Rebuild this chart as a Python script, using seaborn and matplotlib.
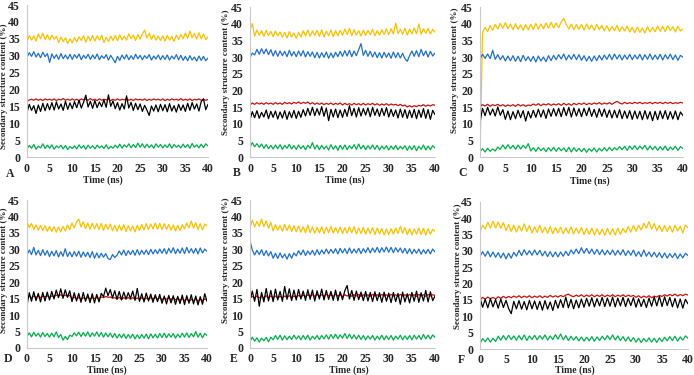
import numpy as np
import pandas as pd
import matplotlib
matplotlib.use("Agg")
import matplotlib.pyplot as plt
import seaborn as sns

# ---------------- data (% content vs time 0-40 ns, every 0.5 ns) ----------------
A_yellow = [34.2, 36.0, 34.6, 35.9, 34.3, 36.4, 35.0, 36.7, 34.7, 36.2,
            34.6, 36.1, 34.9, 35.7, 33.9, 35.5, 34.2, 35.3, 33.6, 35.0,
            33.8, 35.4, 34.1, 35.6, 34.5, 35.9, 34.0, 35.7, 34.4, 36.0,
            34.3, 35.9, 34.6, 36.1, 33.9, 35.4, 34.2, 35.8, 34.5, 36.0,
            34.4, 36.2, 34.7, 35.8, 34.6, 36.5, 35.0, 36.1, 34.5, 36.3,
            34.9, 36.4, 37.6, 35.2, 36.6, 34.8, 36.2, 34.6, 35.8, 34.5,
            35.9, 34.3, 36.0, 34.6, 35.7, 34.2, 36.1, 34.8, 36.3, 35.0,
            36.7, 35.1, 37.3, 35.3, 36.6, 34.9, 36.8, 35.0, 36.4, 34.7, 35.6]
A_blue = [29.5, 30.9, 29.8, 31.2, 29.6, 30.7, 29.4, 31.0, 29.7, 30.6,
          28.0, 30.5, 29.2, 30.3, 28.9, 30.6, 29.1, 30.2, 29.0, 30.4,
          28.9, 30.3, 29.3, 30.5, 28.8, 30.1, 29.2, 30.4, 28.9, 30.2,
          29.1, 30.5, 28.8, 30.0, 29.2, 30.3, 28.7, 30.1, 29.0, 27.9,
          29.8, 28.6, 30.2, 29.0, 30.3, 28.8, 30.0, 28.9, 30.4, 29.1,
          30.1, 28.8, 30.0, 29.2, 30.3, 28.7, 29.9, 29.0, 30.2, 28.8,
          30.0, 28.9, 30.2, 28.7, 29.9, 29.0, 30.3, 28.8, 30.1, 28.6,
          29.8, 28.5, 30.0, 28.7, 29.6, 28.4, 29.9, 28.6, 29.8, 28.5, 29.3]
A_red = [16.5, 16.9, 17.1, 16.8, 17.2, 16.8, 17.1, 16.7, 17.2, 16.9,
         17.1, 16.8, 17.2, 16.7, 17.1, 16.9, 17.3, 16.8, 17.1, 16.8,
         17.2, 16.8, 17.1, 16.7, 17.2, 16.9, 17.1, 16.8, 17.3, 16.8,
         17.1, 16.7, 17.2, 16.8, 17.1, 16.9, 17.2, 16.7, 17.1, 16.8,
         17.2, 16.8, 17.1, 16.9, 17.3, 16.8, 17.1, 16.7, 17.2, 16.9,
         17.1, 16.8, 17.2, 16.7, 17.1, 16.8, 17.2, 16.9, 17.1, 16.8,
         17.2, 16.7, 17.1, 16.8, 17.2, 16.9, 17.1, 16.8, 17.3, 16.8,
         17.1, 16.8, 17.2, 16.7, 17.1, 16.9, 17.2, 16.8, 17.1, 16.8, 17.0]
A_black = [13.2, 15.6, 13.8, 15.2, 12.9, 15.4, 13.5, 15.9, 13.7, 15.8,
           14.0, 16.1, 13.9, 16.3, 14.2, 15.7, 13.8, 16.5, 14.1, 16.0,
           14.3, 16.4, 14.6, 16.8, 14.5, 16.2, 18.3, 14.8, 16.5, 14.4,
           16.7, 14.6, 16.3, 14.9, 16.9, 14.7, 18.4, 15.0, 16.6, 14.3,
           16.1, 13.9, 15.8, 14.2, 18.1, 14.5, 16.2, 13.8, 15.9, 14.0,
           15.7, 13.5, 15.3, 13.9, 12.3, 15.1, 13.6, 15.4, 13.4, 15.6,
           13.7, 15.5, 13.4, 15.8, 13.6, 15.2, 13.3, 15.6, 13.8, 15.4,
           13.5, 15.9, 13.8, 16.1, 14.2, 15.7, 13.6, 16.4, 17.2, 14.0, 15.6]
A_green = [2.4, 3.4, 2.6, 3.7, 2.3, 3.2, 2.7, 3.9, 2.5, 3.5,
           2.6, 3.6, 2.3, 3.3, 2.7, 3.5, 2.4, 3.4, 2.2, 3.1,
           2.5, 3.3, 2.4, 3.6, 2.6, 3.4, 2.3, 3.5, 2.6, 3.3,
           2.4, 3.5, 2.7, 3.3, 2.5, 3.6, 2.4, 3.2, 2.6, 3.5,
           2.7, 3.8, 2.6, 3.6, 2.9, 3.9, 2.7, 3.7, 2.8, 4.1,
           2.9, 3.9, 2.7, 3.8, 2.8, 3.6, 2.6, 3.9, 2.9, 3.7,
           2.7, 3.6, 2.8, 3.9, 2.6, 3.7, 2.9, 3.5, 2.7, 3.8,
           2.8, 3.7, 2.6, 4.0, 2.9, 3.6, 2.7, 3.8, 2.8, 3.9, 3.3]

B_yellow = [38.0, 40.0, 36.3, 38.1, 36.5, 37.9, 36.2, 38.0, 36.4, 37.7,
            36.1, 37.8, 36.3, 37.5, 35.9, 37.4, 35.7, 37.6, 36.0, 37.2,
            35.6, 37.4, 36.0, 37.9, 36.3, 38.1, 36.2, 37.8, 36.5, 38.0,
            36.2, 38.2, 36.0, 37.7, 36.4, 38.1, 36.1, 37.9, 36.3, 38.0,
            36.5, 38.4, 36.7, 38.6, 36.4, 38.2, 36.6, 37.9, 36.3, 38.1,
            36.5, 38.0, 36.7, 38.3, 36.4, 37.9, 36.6, 38.2, 36.8, 38.4,
            36.7, 38.5, 36.9, 40.2, 37.0, 38.3, 36.8, 38.6, 36.6, 38.4,
            36.9, 38.7, 37.0, 39.9, 36.8, 38.5, 37.1, 38.6, 36.9, 38.3, 37.4]
B_blue = [29.8, 31.2, 30.6, 32.3, 30.8, 32.5, 31.0, 32.4, 30.7, 32.2,
          30.3, 31.9, 30.2, 31.8, 30.4, 31.7, 30.1, 32.0, 30.3, 31.6,
          30.1, 31.8, 30.3, 31.9, 30.0, 31.6, 30.2, 31.5, 29.8, 31.4,
          29.7, 31.3, 29.9, 31.5, 29.6, 31.2, 29.8, 31.4, 30.1, 31.7,
          30.2, 31.9, 30.3, 32.0, 30.1, 31.8, 30.4, 32.2, 34.0, 30.5,
          32.0, 30.2, 31.7, 30.0, 31.5, 29.8, 31.3, 29.7, 31.4, 29.9,
          31.2, 29.6, 31.5, 29.8, 31.3, 29.7, 31.1, 29.5, 28.7, 30.4,
          31.8, 30.2, 31.9, 30.1, 32.3, 30.4, 31.8, 30.0, 31.7, 30.3, 31.2]
B_red = [15.6, 16.2, 15.8, 16.3, 15.9, 16.2, 15.8, 16.3, 15.9, 16.2,
         15.8, 16.3, 15.9, 16.2, 15.8, 16.4, 16.0, 16.3, 15.9, 16.4,
         16.1, 16.5, 16.0, 16.4, 16.1, 16.5, 15.9, 16.3, 15.8, 16.2,
         15.8, 16.2, 15.7, 16.1, 15.8, 16.2, 15.7, 16.1, 15.8, 16.2,
         15.6, 16.1, 15.7, 16.0, 15.6, 16.1, 15.7, 16.0, 15.6, 16.1,
         15.6, 16.0, 15.7, 16.1, 15.6, 16.0, 15.5, 15.9, 15.6, 16.0,
         15.5, 15.9, 15.6, 15.8, 15.4, 15.8, 15.3, 15.6, 15.0, 15.4,
         15.0, 15.4, 15.1, 15.5, 15.3, 15.7, 15.2, 15.6, 15.3, 15.7, 15.5]
B_black = [11.2, 13.6, 11.8, 13.9, 11.6, 13.4, 12.0, 14.1, 11.5, 13.7,
           11.9, 13.8, 11.4, 13.5, 11.7, 13.9, 11.3, 13.6, 11.8, 14.0,
           11.6, 13.7, 11.9, 14.2, 12.3, 14.6, 12.5, 14.9, 12.4, 14.5,
           12.6, 15.1, 12.2, 14.7, 10.9, 14.3, 12.0, 14.4, 11.8, 14.1,
           11.9, 14.3, 12.2, 15.4, 12.4, 14.6, 12.0, 14.8, 12.3, 14.5,
           12.6, 14.7, 12.1, 14.9, 12.5, 14.4, 12.2, 14.6, 12.4, 14.8,
           12.0, 14.3, 12.2, 14.1, 11.7, 14.4, 11.9, 14.2, 11.6, 14.0,
           11.8, 14.3, 11.5, 14.1, 11.9, 14.5, 11.6, 14.2, 11.3, 14.0, 12.7]
B_green = [3.0, 4.3, 3.1, 4.0, 2.9, 3.9, 2.6, 3.7, 2.5, 3.5,
           2.4, 3.6, 2.5, 3.7, 2.3, 3.5, 2.6, 3.8, 2.4, 3.4,
           2.3, 3.6, 2.5, 3.4, 2.2, 3.5, 2.6, 4.3, 2.4, 3.6,
           2.2, 3.5, 2.4, 3.3, 2.1, 3.7, 2.3, 3.4, 2.0, 3.5,
           2.3, 3.6, 2.2, 3.4, 2.5, 3.7, 2.3, 3.9, 2.4, 3.5,
           2.2, 3.4, 2.4, 3.6, 2.3, 3.5, 2.1, 3.3, 2.4, 3.4,
           2.1, 3.3, 2.3, 3.5, 2.2, 3.2, 2.4, 3.4, 2.0, 3.3,
           2.2, 3.4, 1.9, 3.2, 2.3, 3.6, 2.1, 3.3, 2.2, 3.4, 2.7]

C_yellow = [0.0, 37.4, 38.9, 37.6, 39.5, 38.0, 39.8, 38.4, 40.1, 38.6,
            40.3, 38.5, 39.9, 38.2, 40.0, 38.3, 39.6, 38.0, 39.7, 38.1,
            39.8, 38.2, 40.1, 38.4, 39.9, 38.5, 40.2, 38.6, 40.4, 38.7,
            40.2, 38.8, 40.5, 41.6, 39.8, 38.4, 39.9, 38.2, 39.7, 38.3,
            39.8, 38.1, 39.9, 38.3, 39.6, 38.0, 39.8, 38.2, 39.5, 37.8,
            39.4, 37.7, 39.2, 37.9, 39.5, 37.6, 39.1, 37.8, 39.3, 37.5,
            38.9, 37.3, 39.0, 37.4, 38.7, 37.2, 39.1, 37.5, 38.9, 37.6,
            39.3, 37.7, 39.2, 37.6, 39.4, 37.9, 39.1, 37.5, 39.2, 37.8, 38.4]
C_blue = [29.4, 30.8, 29.6, 30.9, 29.5, 32.0, 29.3, 30.7, 29.2, 30.4,
          28.8, 30.3, 28.9, 30.4, 28.7, 30.2, 28.6, 30.5, 28.9, 30.1,
          28.7, 30.2, 28.5, 30.3, 28.8, 30.0, 28.6, 30.4, 28.9, 30.5,
          29.2, 30.7, 29.4, 30.9, 29.1, 30.6, 29.3, 30.8, 29.2, 30.7,
          29.0, 30.4, 28.8, 30.2, 28.7, 30.3, 28.9, 30.5, 29.1, 30.6,
          29.3, 30.8, 29.2, 30.9, 29.4, 30.7, 29.1, 30.6, 29.3, 30.8,
          29.2, 30.6, 29.4, 30.8, 29.1, 30.7, 29.3, 30.9, 29.2, 30.6,
          29.3, 30.8, 29.1, 30.7, 29.4, 30.9, 29.2, 30.6, 29.0, 30.5, 29.9]
C_red = [15.2, 15.7, 15.3, 15.8, 15.2, 15.7, 15.4, 15.8, 15.3, 15.7,
         15.2, 15.6, 15.3, 15.7, 15.2, 15.8, 15.3, 15.7, 15.2, 15.6,
         15.4, 15.9, 15.5, 16.0, 15.4, 15.9, 15.6, 16.0, 15.5, 15.9,
         15.6, 16.0, 15.5, 16.1, 15.6, 16.0, 15.5, 16.1, 15.7, 16.1,
         15.8, 16.2, 15.7, 16.1, 15.8, 16.2, 15.9, 16.3, 15.8, 16.2,
         15.9, 16.3, 15.8, 16.3, 16.7, 16.2, 15.9, 16.4, 16.0, 16.3,
         16.0, 16.4, 16.1, 16.4, 16.0, 16.3, 16.1, 16.4, 16.0, 16.4,
         16.1, 16.4, 16.0, 16.4, 16.1, 16.4, 16.0, 16.3, 16.1, 16.4, 16.2]
C_black = [10.5, 14.6, 12.4, 14.9, 12.6, 14.4, 12.3, 15.0, 12.5, 14.2,
           11.3, 13.8, 11.2, 13.6, 11.5, 14.0, 11.8, 13.9, 10.8, 13.7,
           11.7, 14.0, 11.9, 14.3, 12.0, 14.1, 11.6, 14.4, 12.2, 14.5,
           12.3, 14.6, 12.1, 14.8, 12.4, 14.9, 12.0, 14.7, 12.3, 14.5,
           12.1, 14.6, 12.4, 14.8, 12.2, 14.3, 11.9, 14.5, 12.2, 14.4,
           11.9, 14.1, 11.7, 14.0, 11.8, 14.2, 11.5, 13.8, 11.6, 13.9,
           11.3, 13.8, 11.5, 13.7, 11.2, 13.9, 11.4, 13.6, 10.9, 13.7,
           11.2, 13.8, 11.5, 13.9, 11.3, 13.6, 11.4, 13.8, 11.2, 13.5, 12.4]
C_green = [1.6, 2.5, 1.5, 2.6, 1.7, 2.4, 1.8, 3.0, 2.3, 3.6,
           2.4, 3.7, 2.5, 3.5, 2.3, 3.6, 2.4, 3.5, 2.6, 4.0,
           1.8, 2.8, 1.7, 2.9, 1.9, 2.7, 1.6, 2.8, 1.8, 2.9,
           1.7, 2.8, 1.9, 2.7, 1.6, 2.9, 1.5, 2.8, 1.7, 2.6,
           1.6, 2.6, 1.4, 2.5, 1.7, 2.7, 1.5, 2.6, 1.8, 2.8,
           1.8, 2.9, 1.9, 2.8, 2.1, 3.1, 2.2, 3.2, 2.0, 3.3,
           2.3, 3.4, 2.2, 3.3, 2.4, 3.5, 2.1, 3.3, 2.2, 3.2,
           2.0, 3.1, 2.1, 3.3, 1.9, 3.0, 2.2, 3.2, 2.0, 3.1, 2.5]

D_yellow = [38.4, 36.6, 37.9, 36.0, 37.4, 35.8, 37.3, 35.7, 37.2, 35.5,
            37.0, 35.4, 36.9, 35.2, 36.8, 35.3, 37.0, 35.6, 37.4, 36.0,
            38.0, 36.5, 38.3, 39.2, 36.8, 38.4, 36.3, 38.0, 36.1, 37.9,
            36.2, 37.8, 36.0, 37.9, 35.8, 37.6, 36.1, 37.7, 35.6, 37.3,
            35.5, 37.4, 35.7, 37.5, 35.4, 37.2, 35.6, 37.1, 35.3, 37.3,
            35.7, 37.6, 35.9, 37.8, 36.0, 37.7, 36.2, 38.0, 36.1, 37.9,
            36.0, 37.8, 36.1, 37.6, 35.8, 37.4, 35.6, 37.3, 35.7, 37.5,
            36.2, 38.0, 36.5, 38.6, 36.4, 38.1, 36.0, 37.8, 35.9, 37.7, 37.1]
D_blue = [28.2, 29.8, 28.4, 30.6, 28.3, 29.7, 28.1, 29.9, 28.2, 29.6,
          27.8, 29.4, 28.0, 29.6, 27.7, 29.3, 27.9, 30.2, 27.8, 29.2,
          27.7, 29.3, 27.9, 29.4, 27.6, 29.2, 27.8, 29.1, 27.5, 29.3,
          27.3, 28.9, 27.4, 28.8, 27.6, 28.7, 27.2, 26.9, 28.4, 27.5,
          28.2, 29.5, 28.3, 29.8, 28.1, 29.6, 28.4, 29.7, 28.2, 29.9,
          28.3, 29.7, 28.5, 29.8, 28.4, 30.0, 28.6, 29.9, 28.7, 30.1,
          28.8, 30.2, 28.6, 30.3, 28.9, 30.5, 28.7, 30.1, 28.8, 30.4,
          28.7, 30.6, 28.9, 30.2, 28.8, 30.3, 28.6, 30.4, 28.9, 30.1, 29.4]
D_red = [15.2, 15.7, 15.3, 15.8, 15.4, 15.7, 15.3, 15.8, 15.5, 15.9,
         15.4, 15.8, 15.7, 16.1, 15.8, 16.2, 15.8, 16.1, 15.7, 16.0,
         15.0, 15.5, 14.9, 15.4, 14.8, 15.3, 14.9, 15.4, 14.9, 15.3,
         15.0, 15.4, 15.1, 15.5, 15.3, 15.7, 15.4, 15.5, 15.2, 15.3,
         14.9, 15.4, 14.8, 15.3, 14.9, 15.4, 14.8, 15.3, 14.8, 15.2,
         14.8, 15.3, 14.7, 15.2, 14.9, 15.3, 14.9, 15.4, 14.8, 15.3,
         14.7, 15.2, 14.8, 15.3, 14.7, 15.2, 14.6, 15.1, 14.5, 15.0,
         14.4, 14.9, 14.3, 14.8, 14.4, 14.9, 14.3, 14.8, 14.4, 14.9, 14.6]
D_black = [13.0, 16.8, 14.2, 17.1, 14.4, 16.6, 14.0, 16.9, 14.3, 17.0,
           14.6, 17.2, 14.9, 17.6, 15.3, 18.0, 15.1, 17.7, 15.4, 17.4,
           14.1, 16.8, 14.3, 16.6, 13.9, 16.9, 14.2, 16.4, 13.8, 16.5,
           13.7, 16.3, 14.0, 16.6, 15.6, 18.2, 15.9, 17.8, 15.2, 17.4,
           14.8, 17.2, 14.6, 17.0, 14.9, 16.8, 15.1, 17.3, 14.5, 18.1,
           14.2, 16.5, 14.0, 16.7, 14.3, 16.4, 13.9, 16.2, 14.1, 16.3,
           13.6, 15.8, 13.4, 16.0, 13.7, 15.9, 13.3, 15.7, 13.5, 16.1,
           13.2, 15.9, 13.6, 16.2, 13.4, 15.8, 13.1, 15.6, 13.3, 16.5, 14.2]
D_green = [3.5, 4.6, 3.4, 4.8, 3.6, 4.5, 3.3, 4.7, 3.5, 4.4,
           3.3, 4.5, 3.4, 4.9, 3.2, 4.1, 2.4, 3.5, 2.6, 3.9,
           3.5, 4.6, 3.7, 4.8, 3.5, 4.7, 3.6, 4.9, 3.4, 4.6,
           3.6, 4.9, 3.5, 4.7, 3.3, 4.6, 3.4, 4.5, 3.2, 4.4,
           3.0, 4.2, 3.1, 4.3, 2.9, 4.1, 3.0, 4.2, 2.8, 4.0,
           2.9, 4.1, 3.0, 4.2, 2.8, 4.3, 3.1, 4.2, 3.0, 4.4,
           3.2, 4.5, 3.1, 4.3, 3.3, 4.4, 3.0, 4.2, 3.2, 4.5,
           3.3, 4.6, 3.2, 4.4, 3.4, 5.0, 3.3, 4.5, 3.1, 4.4, 3.8]

E_yellow = [36.5, 38.9, 36.8, 38.5, 37.0, 39.2, 36.9, 38.6, 36.4, 38.2,
            35.6, 37.5, 35.8, 37.3, 35.5, 37.6, 35.7, 37.4, 35.4, 37.2,
            35.3, 37.1, 35.2, 36.9, 35.0, 37.4, 35.1, 36.8, 34.9, 36.7,
            35.0, 36.9, 34.8, 36.7, 35.1, 37.0, 34.9, 36.6, 35.0, 36.8,
            34.8, 36.6, 34.9, 36.8, 35.0, 36.9, 34.7, 36.5, 34.8, 36.7,
            34.6, 36.4, 34.8, 36.6, 34.5, 36.5, 34.7, 36.3, 34.4, 36.2,
            34.5, 36.3, 34.6, 36.5, 34.8, 37.0, 34.9, 36.6, 34.5, 36.3,
            34.4, 36.2, 34.6, 36.5, 34.5, 36.4, 34.3, 36.3, 34.6, 36.1, 35.5]
E_blue = [32.6, 29.8, 28.3, 29.7, 28.4, 29.9, 28.1, 29.6, 28.0, 29.3,
          27.3, 28.8, 27.2, 28.9, 27.4, 28.6, 27.0, 28.7, 27.3, 28.9,
          28.0, 29.6, 28.3, 29.8, 28.1, 29.5, 28.4, 29.7, 28.2, 29.9,
          28.4, 29.8, 28.6, 30.1, 28.7, 30.0, 28.8, 30.2, 28.6, 30.3,
          28.9, 30.2, 28.7, 30.4, 28.8, 30.1, 28.9, 30.3, 28.7, 30.2,
          29.0, 30.5, 28.9, 30.4, 29.1, 30.6, 29.0, 30.5, 29.2, 30.7,
          29.1, 30.6, 29.0, 30.5, 29.2, 30.4, 28.9, 30.3, 28.7, 30.2,
          28.6, 30.0, 28.8, 30.1, 28.5, 29.9, 28.7, 30.0, 28.6, 30.1, 29.2]
E_red = [15.2, 15.7, 15.3, 15.8, 15.2, 15.7, 15.3, 15.9, 15.2, 15.8,
         15.3, 15.8, 15.2, 15.7, 15.3, 15.8, 15.4, 15.9, 15.3, 15.8,
         15.5, 16.0, 15.6, 16.1, 15.7, 16.2, 15.8, 16.2, 15.7, 16.3,
         15.8, 16.2, 15.7, 16.3, 15.8, 16.2, 15.7, 16.3, 15.8, 16.2,
         15.7, 16.2, 15.8, 16.3, 15.7, 16.2, 15.8, 16.3, 15.7, 16.2,
         15.8, 16.2, 15.7, 16.3, 15.8, 16.2, 15.7, 16.3, 15.8, 16.2,
         15.7, 16.3, 15.8, 16.2, 15.7, 16.3, 15.8, 16.2, 15.7, 16.3,
         15.8, 16.2, 15.7, 16.3, 15.8, 16.2, 15.7, 16.3, 15.8, 16.2, 16.0]
E_black = [14.5, 17.3, 14.2, 17.8, 12.7, 16.9, 14.0, 18.1, 14.3, 17.5,
           14.1, 17.9, 14.6, 17.2, 14.2, 18.7, 14.8, 18.0, 14.4, 17.6,
           14.6, 17.8, 14.9, 17.3, 14.5, 17.7, 14.8, 17.6, 14.3, 17.4,
           14.9, 17.9, 14.6, 17.5, 14.8, 17.2, 14.5, 17.6, 14.4, 17.1,
           14.7, 17.4, 19.0, 14.9, 17.5, 14.5, 17.3, 14.7, 17.0, 14.4,
           17.2, 14.3, 16.9, 14.1, 17.1, 14.4, 16.8, 13.9, 17.0, 14.2,
           16.7, 13.8, 16.9, 14.1, 16.6, 13.3, 17.0, 14.0, 16.5, 13.7,
           16.9, 14.2, 17.3, 13.9, 16.8, 14.3, 17.5, 14.0, 17.1, 14.4, 15.8]
E_green = [2.0, 3.3, 2.1, 3.1, 1.8, 3.0, 2.2, 3.2, 1.9, 3.3,
           2.5, 3.8, 2.6, 3.9, 2.4, 3.7, 2.5, 3.6, 2.6, 3.9,
           2.7, 3.7, 2.5, 3.8, 2.6, 3.9, 2.4, 3.6, 2.7, 3.8,
           2.6, 3.8, 2.8, 4.0, 2.7, 4.1, 2.9, 4.2, 2.8, 4.0,
           3.0, 4.4, 2.9, 4.2, 2.8, 4.0, 2.7, 3.9, 2.6, 3.8,
           2.5, 3.7, 2.7, 3.8, 2.4, 3.6, 2.6, 3.9, 2.5, 3.7,
           2.6, 3.8, 2.4, 3.6, 2.7, 3.9, 2.5, 3.7, 2.6, 3.8,
           2.5, 3.9, 2.7, 3.8, 2.6, 4.1, 2.8, 3.9, 2.7, 4.0, 3.2]

F_yellow = [35.8, 37.9, 36.7, 38.8, 37.0, 39.1, 37.1, 38.9, 36.9, 38.7,
            36.2, 38.1, 36.0, 37.9, 35.8, 37.7, 36.1, 38.3, 36.0, 37.8,
            35.5, 37.4, 35.7, 37.9, 35.6, 37.3, 35.4, 37.5, 35.3, 37.2,
            35.5, 37.3, 35.3, 37.1, 35.4, 37.4, 35.2, 37.0, 35.4, 37.2,
            35.0, 36.9, 35.1, 37.0, 34.9, 36.8, 35.0, 36.7, 34.8, 36.9,
            35.0, 36.8, 34.9, 37.0, 35.1, 36.9, 35.6, 37.5, 35.8, 37.8,
            36.0, 37.9, 36.4, 38.5, 37.0, 39.0, 36.7, 38.4, 36.2, 37.9,
            35.9, 37.8, 36.0, 37.7, 35.8, 37.9, 36.1, 37.6, 35.5, 38.0, 37.1]
F_blue = [28.3, 29.8, 28.4, 29.9, 28.2, 29.7, 28.1, 29.5, 27.9, 29.4,
          27.6, 29.3, 27.8, 29.6, 28.4, 30.2, 28.6, 30.4, 28.8, 30.1,
          28.7, 30.3, 28.8, 30.2, 28.5, 29.9, 28.3, 29.8, 28.2, 29.7,
          28.2, 29.7, 28.4, 29.9, 28.6, 30.3, 29.1, 30.6, 29.2, 31.0,
          29.3, 30.8, 29.2, 30.6, 29.0, 30.5, 28.9, 30.4, 28.8, 30.2,
          28.9, 30.3, 28.7, 30.2, 28.8, 30.4, 28.6, 30.1, 28.7, 30.3,
          28.4, 29.8, 28.3, 30.3, 28.4, 29.7, 28.2, 29.6, 28.1, 29.5,
          27.9, 29.4, 27.8, 29.2, 28.0, 29.3, 27.7, 29.1, 27.9, 29.3, 28.6]
F_red = [15.1, 15.8, 15.3, 15.9, 15.4, 15.8, 15.3, 16.0, 15.5, 16.1,
         15.6, 16.1, 15.7, 16.2, 15.8, 16.3, 15.7, 16.2, 15.8, 16.3,
         15.7, 16.2, 15.8, 16.3, 15.7, 16.2, 15.8, 16.4, 15.9, 16.3,
         15.9, 16.4, 16.0, 16.5, 16.8, 16.3, 16.0, 16.5, 16.1, 16.6,
         16.0, 16.5, 16.1, 16.6, 16.0, 16.5, 16.1, 16.6, 16.0, 16.5,
         16.1, 16.6, 16.0, 16.5, 16.1, 16.6, 16.0, 16.5, 16.1, 16.4,
         15.8, 16.3, 15.7, 16.2, 15.8, 16.3, 15.7, 16.2, 15.9, 16.4,
         16.1, 16.6, 16.2, 16.7, 16.3, 16.8, 16.2, 16.7, 16.3, 16.8, 16.5]
F_black = [15.6, 12.8, 15.2, 12.6, 15.4, 12.9, 15.1, 12.5, 15.3, 12.7,
           14.9, 12.4, 10.8, 14.6, 12.3, 14.8, 12.2, 14.5, 12.0, 14.9,
           12.3, 14.7, 12.1, 14.6, 11.9, 14.8, 12.2, 14.4, 11.8, 14.9,
           12.5, 15.1, 12.7, 15.9, 12.6, 15.2, 12.3, 15.0, 12.6, 15.3,
           12.8, 15.5, 13.1, 15.7, 12.9, 15.4, 13.2, 15.8, 13.0, 15.6,
           13.1, 15.9, 12.9, 15.6, 13.2, 15.8, 13.0, 15.5, 13.3, 15.7,
           12.8, 15.4, 13.0, 15.2, 12.7, 15.6, 13.1, 15.9, 13.2, 16.1,
           13.0, 16.0, 13.3, 15.8, 12.9, 15.5, 12.6, 15.3, 12.5, 15.2, 13.8]
F_green = [1.6, 3.2, 2.2, 3.4, 2.1, 3.3, 2.3, 3.9, 2.7, 4.1,
           2.8, 4.2, 2.9, 4.0, 2.7, 4.1, 2.8, 4.3, 2.6, 4.0,
           2.9, 4.2, 2.8, 4.1, 3.0, 4.3, 2.7, 4.0, 2.9, 4.4,
           3.0, 4.6, 2.8, 4.1, 2.6, 3.9, 2.7, 3.8, 2.5, 3.7,
           2.4, 3.6, 2.5, 3.8, 2.4, 3.7, 2.6, 3.9, 2.8, 4.1,
           2.9, 4.3, 2.8, 4.0, 2.6, 3.8, 2.4, 3.7, 2.3, 3.5,
           2.1, 3.3, 2.0, 3.2, 2.2, 3.4, 2.1, 3.3, 2.0, 3.4,
           2.3, 3.6, 2.5, 3.8, 2.6, 3.9, 2.4, 3.7, 2.7, 4.0, 3.3]

panel_letters = ["A", "B", "C", "D", "E", "F"]
series_names = ["yellow", "blue", "red", "black", "green"]
x_ticks = [0, 5, 10, 15, 20, 25, 30, 35, 40]
y_ticks = [0, 5, 10, 15, 20, 25, 30, 35, 40, 45]
y_label = "Secondary structure content (%)"
x_label = "Time (ns)"

panel_data = {
    "A": [A_yellow, A_blue, A_red, A_black, A_green],
    "B": [B_yellow, B_blue, B_red, B_black, B_green],
    "C": [C_yellow, C_blue, C_red, C_black, C_green],
    "D": [D_yellow, D_blue, D_red, D_black, D_green],
    "E": [E_yellow, E_blue, E_red, E_black, E_green],
    "F": [F_yellow, F_blue, F_red, F_black, F_green],
}

# ---------------- style ----------------
palette = {"yellow": "#FFC000", "blue": "#1F6FD4", "red": "#CC1010",
           "black": "#000000", "green": "#00B04C"}

sns.set_style("white")
plt.rcParams["font.family"] = ["Liberation Serif", "DejaVu Serif"]

W, H = 694, 375
fig = plt.figure(figsize=(W / 100, H / 100), dpi=100)

# pixel layout: (left, right, top, bottom) of each plotting area
layout = {
    "A": (27, 208, 5, 157),
    "B": (250, 435, 7, 157),
    "C": (480, 683, 7, 157),
    "D": (27, 207, 200, 348),
    "E": (250, 435, 200, 348),
    "F": (480, 688, 202, 349),
}
letter_pos = {"A": (10, 174), "B": (237, 173), "C": (463, 173),
              "D": (8, 359), "E": (234, 359), "F": (461, 360)}
xlabel_pos = {"A": (103, 180), "B": (345, 180), "C": (590, 181),
              "D": (107, 370), "E": (349, 370), "F": (575, 370)}
ylabel_pos = {"A": (4, 86), "B": (226, 72), "C": (455, 70),
              "D": (4, 270), "E": (226, 260), "F": (458, 266)}
xtick_pad = {"A": 4.5, "B": 4.5, "C": 4, "D": 3.5, "E": 3.5, "F": 3.5}

def fx(px):
    return px / W

def fy(py):
    return 1 - py / H

axis_grey = "#C9C9C9"

for name in panel_letters:
    l, r, t, b = layout[name]
    ax = fig.add_axes([fx(l), fy(b), (r - l) / W, (b - t) / H])
    frames = []
    for s, vals in zip(series_names, panel_data[name]):
        frames.append(pd.DataFrame({"time": np.linspace(0, 40, len(vals)),
                                    "value": vals, "series": s}))
    df = pd.concat(frames, ignore_index=True)
    sns.lineplot(data=df, x="time", y="value", hue="series",
                 hue_order=series_names, palette=palette, estimator=None,
                 sort=False, linewidth=0.9, legend=False, ax=ax)
    ax.set_xlim(0, 40)
    ax.set_ylim(0, 45)
    ax.set_xticks(x_ticks)
    ax.set_yticks(y_ticks)
    ax.set_xlabel("")
    ax.set_ylabel("")
    ax.set_facecolor("none")
    for sp in ["top", "right"]:
        ax.spines[sp].set_visible(False)
    for sp in ["left", "bottom"]:
        ax.spines[sp].set_color(axis_grey)
        ax.spines[sp].set_linewidth(0.8)
    ax.tick_params(axis="y", length=0, pad=5, labelsize=8.5)
    ax.tick_params(axis="x", length=2, direction="in", color=axis_grey,
                   pad=xtick_pad[name], labelsize=8.5)
    for lab in ax.get_xticklabels() + ax.get_yticklabels():
        lab.set_fontweight("bold")

    lx, ly = letter_pos[name]
    fig.text(fx(lx), fy(ly), name, ha="center", va="center",
             fontsize=8.5, fontweight="bold")
    tx, ty = xlabel_pos[name]
    fig.text(fx(tx), fy(ty), x_label, ha="center", va="center",
             fontsize=7, fontweight="bold")
    yx, yy = ylabel_pos[name]
    fig.text(fx(yx), fy(yy), y_label, ha="center", va="center",
             rotation=90, fontsize=6.5, fontweight="bold")

fig.savefig("out.png", dpi=100)
